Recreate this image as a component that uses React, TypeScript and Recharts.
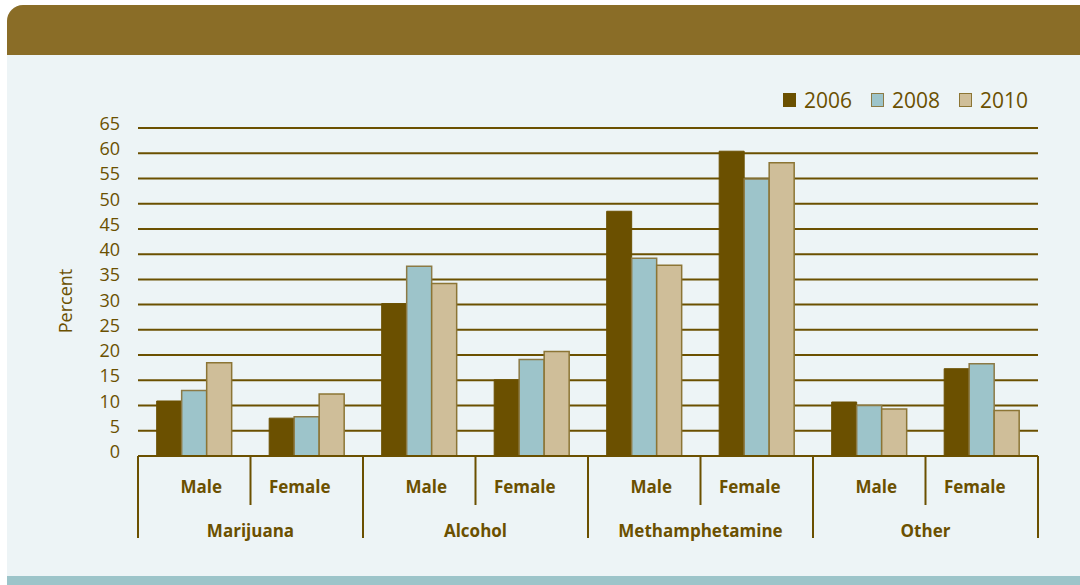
import React from 'react';
import { BarChart, Bar, XAxis, YAxis, CartesianGrid, Legend } from 'recharts';

const drugs = ['Marijuana', 'Alcohol', 'Methamphetamine', 'Other'];
const sexes = ['Male', 'Female'];
const years = ['2006', '2008', '2010'];
const v2006 = [10.9, 7.5, 30.2, 15.1, 48.5, 60.4, 10.7, 17.3];
const v2008 = [13.0, 7.8, 37.6, 19.1, 39.2, 54.9, 10.0, 18.3];
const v2010 = [18.5, 12.3, 34.2, 20.7, 37.8, 58.1, 9.3, 9.0];
const yTicks = [0, 5, 10, 15, 20, 25, 30, 35, 40, 45, 50, 55, 60, 65];

const data = v2006.map((_, i) => ({
  key: `${drugs[Math.floor(i / 2)]}|${sexes[i % 2]}`,
  sex: sexes[i % 2],
  drug: drugs[Math.floor(i / 2)],
  y2006: v2006[i],
  y2008: v2008[i],
  y2010: v2010[i],
}));

const BROWN = '#6B5000';
const TEXT = '#6B5000';
const FONT = '"Open Sans", "Noto Sans", sans-serif';
const colors = ['#6B5000', '#9DC4CA', '#CFBE99'];
const strokes = ['#6B5000', '#8C7A45', '#8C7535'];

const W = 1080;
const H = 585;
const M = { top: 128, right: 42, bottom: 0, left: 0 };
const YW = 138;
const PLOT_W = W - M.left - M.right - YW;

const XTick = (props: any) => {
  const { x, y, payload } = props;
  const i = payload.index;
  const bw = PLOT_W / data.length;
  const left = x - bw / 2;
  const right = x + bw / 2;
  const d = data[i];
  const isGroupStart = i % 2 === 0;
  const dx = isGroupStart ? 7 : -7;
  return (
    <g>
      <line x1={left} y1={y} x2={left} y2={y + (isGroupStart ? 82 : 49)} stroke={BROWN} strokeWidth={2} />
      {i === data.length - 1 && (
        <line x1={right} y1={y} x2={right} y2={y + 82} stroke={BROWN} strokeWidth={2} />
      )}
      <text x={x + dx} y={y + 37} textAnchor="middle" fill={TEXT} fontFamily={FONT} fontWeight={700} fontSize={17}>
        {d.sex}
      </text>
      {!isGroupStart && (
        <text x={left} y={y + 81} textAnchor="middle" fill={TEXT} fontFamily={FONT} fontWeight={700} fontSize={17}>
          {d.drug}
        </text>
      )}
    </g>
  );
};

const YTick = (props: any) => {
  const { x, y, payload } = props;
  return (
    <text x={x} y={y + 2} textAnchor="end" fill={TEXT} fontFamily={FONT} fontSize={18} fontWeight={400}>
      {payload.value}
    </text>
  );
};

const LegendContent = () => (
  <div style={{ display: 'flex', alignItems: 'center', fontFamily: FONT, fontSize: 21, color: TEXT, lineHeight: '26px' }}>
    {years.map((yr, i) => (
      <div key={yr} style={{ display: 'flex', alignItems: 'center', marginRight: i < 2 ? 19 : 0 }}>
        <span
          style={{
            display: 'inline-block',
            width: 11,
            height: 12,
            background: colors[i],
            border: `1px solid ${strokes[i]}`,
            marginRight: 8,
          }}
        />
        <span>{yr}</span>
      </div>
    ))}
  </div>
);

export default function App() {
  return (
    <div style={{ position: 'absolute', left: 0, top: 0, width: W, height: H, background: '#ffffff', overflow: 'hidden' }}>
      <div style={{ position: 'absolute', left: 7, top: 5, width: W - 7, height: H - 5, background: '#EDF4F6', borderTopLeftRadius: 16 }} />
      <div style={{ position: 'absolute', left: 7, top: 5, width: W - 7, height: 50, background: '#8A6D27', borderTopLeftRadius: 16 }} />
      <div style={{ position: 'absolute', left: 7, top: 576, width: W - 7, height: 9, background: '#9CC4C9' }} />
      <div style={{ position: 'absolute', left: 0, top: 0 }}>
        <BarChart width={W} height={H} data={data} margin={M} barCategoryGap="16.6%" barGap={0}>
          <CartesianGrid horizontal vertical={false} stroke={BROWN} strokeWidth={2} strokeOpacity={1} fill="none" />
          <XAxis
            dataKey="key"
            height={H - 456 - M.bottom}
            axisLine={{ stroke: BROWN, strokeWidth: 2 }}
            tickLine={false}
            tickSize={0}
            tickMargin={0}
            interval={0}
            tick={<XTick />}
          />
          <YAxis
            width={YW}
            domain={[0, 65]}
            ticks={yTicks}
            interval={0}
            axisLine={false}
            tickLine={false}
            tickSize={0}
            tickMargin={18}
            tick={<YTick />}
            label={(p: any) => {
              const vb = p.viewBox || {};
              const cx = 65;
              const cy = (vb.y || 128) + (vb.height || 328) / 2 + 9;
              return (
                <text x={cx} y={cy} transform={`rotate(-90 ${cx} ${cy})`} textAnchor="middle" dominantBaseline="central" fill={TEXT} fontFamily={FONT} fontSize={18}>
                  Percent
                </text>
              );
            }}
          />
          <Legend
            verticalAlign="middle"
            align="center"
            layout="horizontal"
            content={<LegendContent />}
            wrapperStyle={{ top: 87, left: 783, width: 260, right: 'auto' }}
          />
          <Bar dataKey="y2006" name="2006" fill={colors[0]} stroke={strokes[0]} strokeWidth={1} isAnimationActive={false} />
          <Bar dataKey="y2008" name="2008" fill={colors[1]} stroke={strokes[1]} strokeWidth={1.5} isAnimationActive={false} />
          <Bar dataKey="y2010" name="2010" fill={colors[2]} stroke={strokes[2]} strokeWidth={1.5} isAnimationActive={false} />
        </BarChart>
      </div>
    </div>
  );
}
